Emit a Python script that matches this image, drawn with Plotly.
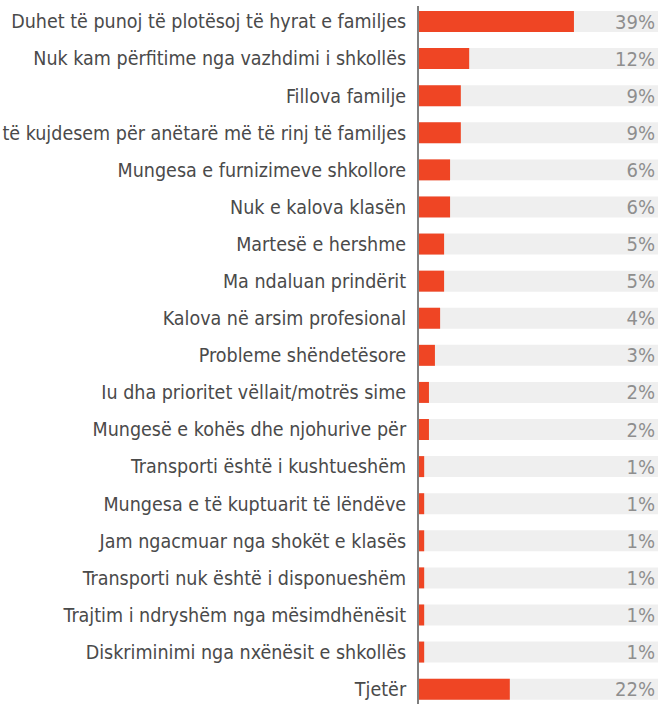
import plotly.graph_objects as go

categories = [
    "Duhet të punoj të plotësoj të hyrat e familjes",
    "Nuk kam përfitime nga vazhdimi i shkollës",
    "Fillova familje",
    "të kujdesem për anëtarë më të rinj të familjes",
    "Mungesa e furnizimeve shkollore",
    "Nuk e kalova klasën",
    "Martesë e hershme",
    "Ma ndaluan prindërit",
    "Kalova në arsim profesional",
    "Probleme shëndetësore",
    "Iu dha prioritet vëllait/motrës sime",
    "Mungesë e kohës dhe njohurive për",
    "Transporti është i kushtueshëm",
    "Mungesa e të kuptuarit të lëndëve",
    "Jam ngacmuar nga shokët e klasës",
    "Transporti nuk është i disponueshëm",
    "Trajtim i ndryshëm nga mësimdhënësit",
    "Diskriminimi nga nxënësit e shkollës",
    "Tjetër",
]
pct_labels = [39, 12, 9, 9, 6, 6, 5, 5, 4, 3, 2, 2, 1, 1, 1, 1, 1, 1, 22]
bar_values = [38.9, 12.6, 10.5, 10.5, 7.8, 7.8, 6.3, 6.3, 5.3, 4.0, 2.5, 2.5,
              1.3, 1.3, 1.3, 1.3, 1.3, 1.3, 22.8]
axis_max = 60

font_family = "DejaVu Sans Condensed, Lato, sans-serif"

fig = go.Figure()
fig.add_trace(go.Bar(
    y=categories, x=[axis_max] * len(categories), orientation="h",
    marker=dict(color="#efefef", line=dict(width=0)),
    text=[f"{v}%" for v in pct_labels], textposition="inside",
    insidetextanchor="end", constraintext="none",
    textfont=dict(family=font_family, size=20, color="#8e8e8e"),
    hoverinfo="skip", showlegend=False,
))
fig.add_trace(go.Bar(
    y=categories, x=bar_values, orientation="h",
    marker=dict(color="#ef4524", line=dict(width=0)),
    showlegend=False,
))
fig.update_layout(
    width=666, height=704,
    barmode="overlay", bargap=0.434,
    margin=dict(l=419, r=8, t=6, b=0),
    plot_bgcolor="white", paper_bgcolor="white",
    xaxis=dict(range=[0, axis_max], visible=False, fixedrange=True),
    yaxis=dict(
        autorange=False, range=[18.4, -0.418], automargin=False,
        showline=True, linecolor="#7f7f7f", linewidth=2,
        showgrid=False, ticks="", ticklabelstandoff=7,
        tickfont=dict(family=font_family, size=19.5, color="#4a4a4a"),
    ),
    uniformtext=dict(mode=False),
)
fig.write_html(
    "out.html",
    config={"displayModeBar": False},
    post_script="document.body.style.margin='0';document.body.style.overflow='hidden';",
)
